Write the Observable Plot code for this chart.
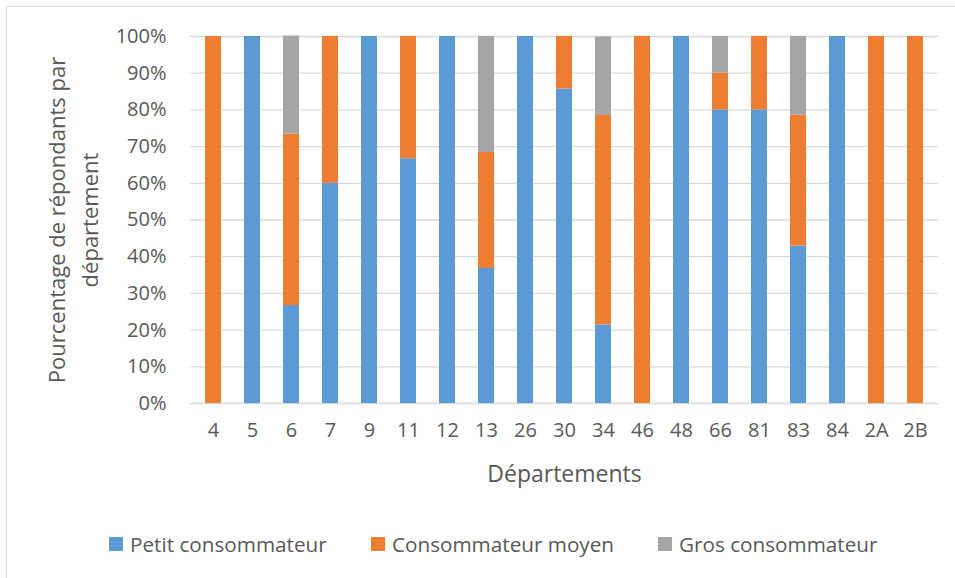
<!DOCTYPE html>
<html>
<head>
<meta charset="utf-8">
<script src="https://cdn.jsdelivr.net/npm/d3@7"></script>
<script src="https://cdn.jsdelivr.net/npm/@observablehq/plot@0.6"></script>
<style>
  html, body { margin: 0; padding: 0; background: #fff; }
  #wrap { position: relative; width: 955px; height: 578px; overflow: hidden; font-family: "Open Sans", sans-serif; color: #595959; }
  #border { position: absolute; left: 6px; top: 6px; width: 1000px; height: 1000px; border-left: 1.5px solid #d9d9d9; border-top: 1.5px solid #d9d9d9; }
  #chart { position: absolute; left: 0; top: 0; }
  .leg { position: absolute; top: 530px; display: flex; align-items: center; font-size: 20.7px; white-space: nowrap; }
  .sw { width: 14px; height: 14px; margin-right: 7px; }
</style>
</head>
<body>
<div id="wrap">
  <div id="border"></div>
  <div id="chart"></div>
  <div id="legend"></div>
</div>
<script>
const departements = ["4","5","6","7","9","11","12","13","26","30","34","46","48","66","81","83","84","2A","2B"];
const series = ["Petit consommateur", "Consommateur moyen", "Gros consommateur"];
const petit = [0, 100, 26.7, 60, 100, 66.7, 100, 36.8, 100, 85.7, 21.4, 0, 100, 80, 80, 42.9, 100, 0, 0];
const moyen = [100, 0, 46.7, 40, 0, 33.3, 0, 31.6, 0, 14.3, 57.1, 100, 0, 10, 20, 35.7, 0, 100, 100];
const gros  = [0, 0, 26.7, 0, 0, 0, 0, 31.6, 0, 0, 21.4, 0, 0, 10, 0, 21.4, 0, 0, 0];
const colors = ["#5B9BD5", "#ED7D31", "#A5A5A5"];
const yTicks = [0,10,20,30,40,50,60,70,80,90,100];

const values = [petit, moyen, gros];
const rows = [];
departements.forEach((d, i) => {
  series.forEach((s, j) => rows.push({dep: d, serie: s, value: values[j][i]}));
});

const chart = Plot.plot({
  width: 955,
  height: 505,
  marginLeft: 190,
  marginRight: 17,
  marginTop: 36,
  marginBottom: 102,
  style: { fontFamily: "Open Sans, sans-serif", fontSize: "20px", color: "#595959", background: "transparent", overflow: "visible" },
  x: { domain: departements, paddingInner: 0.6, paddingOuter: 0.3, label: null },
  y: { domain: [0, 100], label: null },
  color: { domain: series, range: colors },
  marks: [
    Plot.gridY(yTicks, { stroke: "#d9d9d9", strokeOpacity: 1, strokeWidth: 1.3 }),
    Plot.barY(rows, { x: "dep", y: "value", fill: "serie", order: series }),
    Plot.axisY({ ticks: yTicks, tickSize: 0, tickPadding: 24, tickFormat: d => d + "%", label: null, fontSize: 20 }),
    Plot.axisX({ tickSize: 0, tickPadding: 19, label: null, fontSize: 20 }),
    Plot.text(["Départements"], { frameAnchor: "bottom", dy: 71, lineAnchor: "middle", fontSize: 23, fill: "#595959" }),
    Plot.text(["Pourcentage de répondants par\ndépartement"], { frameAnchor: "left", dx: -120, rotate: -90, textAnchor: "middle", lineAnchor: "middle", lineHeight: 1.5, fontSize: 22, fill: "#595959" })
  ]
});
document.getElementById("chart").appendChild(chart);

const legLefts = [109, 371, 658];
const legend = document.getElementById("legend");
series.forEach((s, j) => {
  const item = document.createElement("div");
  item.className = "leg";
  item.style.left = legLefts[j] + "px";
  item.innerHTML = `<div class="sw" style="background:${colors[j]}"></div><span>${s}</span>`;
  legend.appendChild(item);
});
</script>
</body>
</html>
